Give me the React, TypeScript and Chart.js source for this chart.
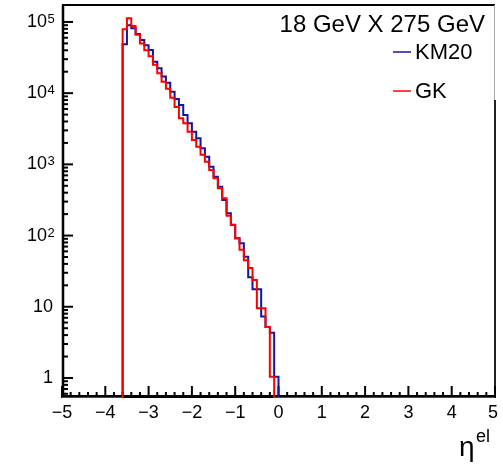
import React, { useEffect, useRef } from "react";
import { Chart, registerables } from "chart.js";

Chart.register(...registerables);

// ---- data ----
const BIN_START = -3.6;
const BIN_WIDTH = 0.1;
const X_MIN = -5;
const X_MAX = 5;
const Y_MIN = 0.523;
const Y_MAX = 1.73e5;

const seriesNames = ["KM20", "GK"];
const seriesColors = ["#14149c", "#ff0000"];
const headerText = "18 GeV X 275 GeV";

// KM20 bin contents, bins of 0.1 starting at -3.6
const km20Values = [
  48600, 89900, 81600, 67800, 56000, 47000, 40400, 27700, 22400, 17100,
  14000, 10500, 8300, 6820, 4940, 3780, 2880, 2330, 1680, 1280,
  929, 672, 486, 316, 206, 142, 92, 78, 50.5, 26,
  17.6, 17.6, 7.3, 5.2, 4.3, 1.04,
];

// GK bin contents, bins of 0.1 starting at -3.6
const gkValues = [
  78900, 113000, 87800, 66000, 50000, 40000, 33000, 25000, 19000, 14500,
  11500, 8600, 6400, 4440, 3780, 2880, 2200, 1770, 1360, 1090,
  834, 638, 461, 334, 190, 141, 92, 63, 45, 35,
  23.8, 9.5, 9.5, 5.2, 1.04,
];

const xTickValues = [-5, -4, -3, -2, -1, 0, 1, 2, 3, 4, 5];
const xTickLabels = ["\u22125", "\u22124", "\u22123", "\u22122", "\u22121", "0", "1", "2", "3", "4", "5"];
const yTickExponents = [0, 1, 2, 3, 4, 5];

const FONT = '"Liberation Sans", Arial, Helvetica, sans-serif';

function histPoints(values: number[]) {
  const pts: { x: number; y: number }[] = [{ x: X_MIN, y: Y_MIN }];
  values.forEach((v, i) => pts.push({ x: BIN_START + i * BIN_WIDTH, y: v }));
  pts.push({ x: BIN_START + values.length * BIN_WIDTH, y: Y_MIN });
  pts.push({ x: X_MAX, y: Y_MIN });
  return pts;
}

const rootStyle = {
  id: "rootStyle",
  beforeDatasetsDraw(chart: any) {
    const { ctx, chartArea: a, scales } = chart;
    const xs = scales.x;
    const ys = scales.y;
    ctx.save();
    // frame
    ctx.strokeStyle = "#000";
    ctx.lineWidth = 2;
    ctx.beginPath();
    ctx.moveTo(a.left, a.top);
    ctx.lineTo(a.right, a.top);
    ctx.stroke();
    ctx.strokeStyle = "#aaa";
    ctx.lineWidth = 1;
    ctx.beginPath();
    ctx.moveTo(a.right - 0.5, a.top);
    ctx.lineTo(a.right - 0.5, a.top + 95);
    ctx.stroke();
    ctx.strokeStyle = "#222";
    ctx.lineWidth = 2;
    ctx.beginPath();
    ctx.moveTo(a.right, a.top + 95);
    ctx.lineTo(a.right, a.bottom);
    ctx.stroke();
    ctx.strokeStyle = "#000";
    ctx.lineWidth = 2.5;
    ctx.beginPath();
    ctx.moveTo(a.left + 1, a.top);
    ctx.lineTo(a.left + 1, a.bottom);
    ctx.stroke();
    ctx.lineWidth = 3;
    ctx.beginPath();
    ctx.moveTo(a.left, a.bottom - 1.5);
    ctx.lineTo(a.right, a.bottom - 1.5);
    ctx.stroke();

    // x ticks
    ctx.lineWidth = 2;
    for (let i = 0; i <= 50; i++) {
      const v = X_MIN + i * 0.2;
      const px = xs.getPixelForValue(v);
      const major = i % 5 === 0;
      ctx.beginPath();
      ctx.moveTo(px, a.bottom);
      ctx.lineTo(px, a.bottom - (major ? 12 : 6));
      ctx.stroke();
    }
    // y ticks
    for (let e = -1; e <= 5; e++) {
      for (let m = 1; m <= 9; m++) {
        const v = m * Math.pow(10, e);
        if (v < Y_MIN || v > Y_MAX) continue;
        const py = ys.getPixelForValue(v);
        ctx.beginPath();
        ctx.moveTo(a.left, py);
        ctx.lineTo(a.left + (m === 1 ? 11 : 6), py);
        ctx.stroke();
      }
    }
    ctx.restore();
  },
  afterDraw(chart: any) {
    const { ctx, scales } = chart;
    const xs = scales.x;
    const ys = scales.y;
    ctx.save();
    ctx.fillStyle = "#000";
    // x tick labels
    ctx.font = `18px ${FONT}`;
    ctx.textAlign = "center";
    ctx.textBaseline = "middle";
    xTickValues.forEach((v, i) => {
      let px = xs.getPixelForValue(v);
      if (i === xTickValues.length - 1) px -= 2;
      ctx.fillText(xTickLabels[i], px, 413);
    });
    // y tick labels
    yTickExponents.forEach((e) => {
      const py = ys.getPixelForValue(Math.pow(10, e));
      ctx.textBaseline = "middle";
      ctx.font = `18px ${FONT}`;
      if (e === 0) {
        ctx.textAlign = "right";
        ctx.fillText("1", 53, py);
      } else if (e === 1) {
        ctx.textAlign = "right";
        ctx.fillText("10", 53, py);
      } else {
        ctx.textAlign = "right";
        ctx.fillText("10", 47, py);
        ctx.font = `13px ${FONT}`;
        ctx.textAlign = "left";
        ctx.textBaseline = "alphabetic";
        ctx.fillText(String(e), 47.5, py + 1);
      }
    });
    // axis title eta^el
    ctx.textAlign = "left";
    ctx.textBaseline = "alphabetic";
    ctx.font = `28px ${FONT}`;
    ctx.fillText("\u03b7", 459, 456);
    ctx.font = `18px ${FONT}`;
    ctx.fillText("el", 476, 442);

    // header
    ctx.font = `24px ${FONT}`;
    ctx.textAlign = "right";
    ctx.fillText(headerText, 485, 32);

    // legend entries
    const legendY = [52, 91];
    ctx.font = `22px ${FONT}`;
    ctx.textAlign = "left";
    ctx.textBaseline = "middle";
    seriesNames.forEach((name, i) => {
      ctx.strokeStyle = seriesColors[i];
      ctx.lineWidth = 1.5;
      ctx.beginPath();
      ctx.moveTo(393, legendY[i]);
      ctx.lineTo(411, legendY[i]);
      ctx.stroke();
      ctx.fillStyle = "#000";
      ctx.fillText(name, 415, legendY[i] + 1);
    });
    ctx.restore();
  },
};

export default function App() {
  const canvasRef = useRef<HTMLCanvasElement | null>(null);

  useEffect(() => {
    document.body.style.margin = "0";
    const canvas = canvasRef.current;
    if (!canvas) return;
    const chart = new Chart(canvas, {
      type: "line",
      data: {
        datasets: [
          {
            label: seriesNames[0],
            data: histPoints(km20Values),
            borderColor: seriesColors[0],
            borderWidth: 2,
            stepped: true,
            pointRadius: 0,
            fill: false,
            order: 1,
          },
          {
            label: seriesNames[1],
            data: histPoints(gkValues),
            borderColor: seriesColors[1],
            borderWidth: 2,
            stepped: true,
            pointRadius: 0,
            fill: false,
            order: 0,
          },
        ],
      },
      options: {
        animation: false,
        responsive: false,
        devicePixelRatio: 1,
        parsing: false as any,
        normalized: true,
        layout: { padding: { left: 62, top: 5, right: 8, bottom: 70 } },
        scales: {
          x: { type: "linear", min: X_MIN, max: X_MAX, display: false },
          y: { type: "logarithmic", min: Y_MIN, max: Y_MAX, display: false },
        },
        plugins: {
          legend: { display: false },
          tooltip: { enabled: false },
        },
      },
      plugins: [rootStyle],
    });
    return () => chart.destroy();
  }, []);

  return (
    <div style={{ width: 503, height: 468, background: "#fff" }}>
      <canvas ref={canvasRef} width={503} height={468} />
    </div>
  );
}
